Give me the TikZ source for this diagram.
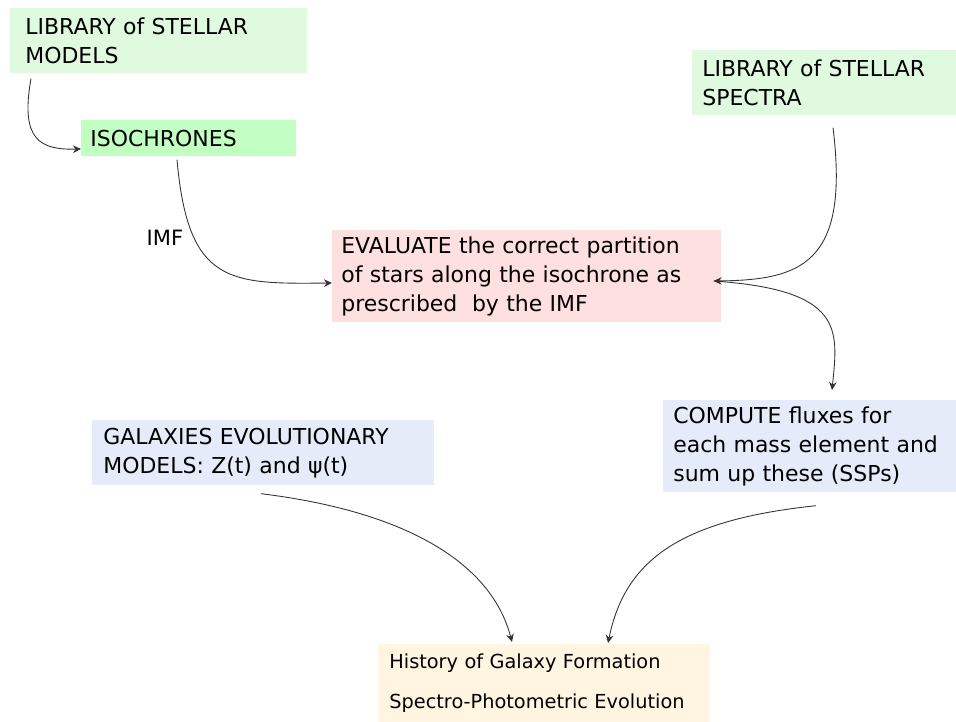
\documentclass[tikz,border=0pt]{standalone}
\usepackage{fontspec}
\setmainfont{DejaVu Sans}
\usepackage{tikz}
\usetikzlibrary{arrows.meta,positioning,calc}
\definecolor{libgreen}{HTML}{E0FAE0}
\definecolor{isogreen}{HTML}{C2FFC2}
\definecolor{evalpink}{HTML}{FFE0E0}
\definecolor{compblue}{HTML}{E6EBFA}
\definecolor{histcream}{HTML}{FFF5E1}
\tikzset{
  sp/box/.style={anchor=north west, align=left, inner ysep=0pt, font=\fontsize{12.5}{16.3}\selectfont},
  sp/link/.style={draw=black!80, line width=0.5pt, -{Stealth[length=1.6mm,width=1.5mm]}},
  sp/label/.style={font=\fontsize{12}{14}\selectfont, inner sep=1pt}
}
\begin{document}
\begin{tikzpicture}[x=0.02cm, y=-0.02cm]
  \useasboundingbox (0,0) rectangle (956,722);

  % input libraries
  \node[sp/box, fill=libgreen, minimum width=5.94cm, minimum height=1.3cm, inner xsep=0.3cm, text width=5.34cm]
    (models) at (10,8) {LIBRARY of STELLAR\\MODELS};
  \node[sp/box, fill=isogreen, minimum width=4.3cm, minimum height=0.72cm, inner xsep=0.18cm, text width=3.94cm]
    (iso) at (81,120) {ISOCHRONES};
  \node[sp/box, fill=libgreen, minimum width=5.28cm, minimum height=1.3cm, inner xsep=0.2cm, text width=4.88cm]
    (spectra) at (692,50) {LIBRARY of STELLAR\\SPECTRA};

  % processing steps
  \node[sp/box, fill=evalpink, minimum width=7.78cm, minimum height=1.84cm, inner xsep=0.18cm, text width=7.42cm]
    (eval) at (332,230) {EVALUATE the correct partition\\of stars along the isochrone as\\prescribed\ \ by the IMF};
  \node[sp/box, fill=compblue, minimum width=5.86cm, minimum height=1.84cm, inner xsep=0.2cm, text width=5.46cm]
    (comp) at (663,400) {COMPUTE fluxes for\\each mass element and\\sum up these (SSPs)};
  \node[sp/box, fill=compblue, minimum width=6.84cm, minimum height=1.3cm, inner xsep=0.22cm, text width=6.4cm]
    (gal) at (92,420) {GALAXIES EVOLUTIONARY\\MODELS: Z(t) and ψ(t)};

  % result
  \node[sp/box, fill=histcream, minimum width=6.64cm, minimum height=1.56cm, inner xsep=0.22cm, text width=6.2cm,
    font=\fontsize{11}{22.7}\selectfont]
    (hist) at (378,644) {History of Galaxy Formation\\Spectro-Photometric Evolution};

  % connectors
  \draw[sp/link] ([shift={(21,5)}]models.south west)
    .. controls (20,140) and (40,150) .. ([shift={(0,29)}]iso.north west);
  \draw[sp/link] ([shift={(96,3)}]iso.south west)
    .. controls (188,285) and (230,284) .. ([shift={(0,53)}]eval.north west)
    node[pos=0.28, left=5pt, sp/label] {IMF};
  \draw[sp/link] ([shift={(141,12)}]spectra.south west)
    .. controls (850,265) and (800,280) .. ([shift={(-8,51)}]eval.north east);
  \draw[sp/link] ([shift={(-8,51)}]eval.north east)
    .. controls (845,290) and (838,330) .. ([shift={(169,-10)}]comp.north west);
  \draw[sp/link] ([shift={(169,8)}]gal.south west)
    .. controls (410,512) and (492,565) .. ([shift={(134,-2)}]hist.north west);
  \draw[sp/link] ([shift={(153,13)}]comp.south west)
    .. controls (680,520) and (625,560) .. ([shift={(230,-1)}]hist.north west);
\end{tikzpicture}
\end{document}
